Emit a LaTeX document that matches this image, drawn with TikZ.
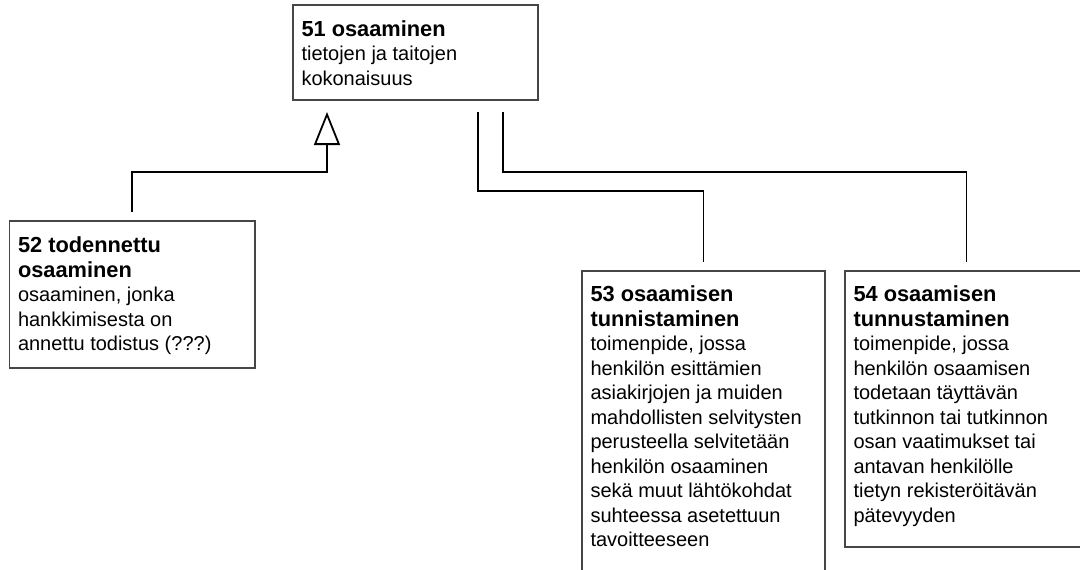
\documentclass[tikz,border=0pt]{standalone}
\usepackage{fontspec}
\setmainfont{Liberation Sans}
\usetikzlibrary{arrows.meta,calc}
\definecolor{boxgray}{RGB}{70,70,70}
\newcommand\bodyfont{\fontsize{20}{24.5}\selectfont}
\newcommand\titlefont{\fontsize{21.8}{24.5}\selectfont\bfseries}
\newcommand\boxcontent[3]{\parbox[t]{#1pt}{\raggedright{\titlefont #2\\}\bodyfont #3}}
\tikzset{
  termbox/.style={draw=boxgray, line width=1.8pt, fill=white, anchor=north west,
    inner xsep=8.5pt, inner ysep=0pt, outer sep=0pt},
  conn/.style={draw=black, line width=1.8pt},
}
\begin{document}
\begin{tikzpicture}[x=1pt,y=-1pt]
\useasboundingbox (0,0) rectangle (1080,570);
\fill[white] (0,0) rectangle (1080,570);

\node[termbox, text height=31pt, text depth=64pt] (b51) at (293,5)
  {\boxcontent{228}{51 osaaminen}{tietojen ja taitojen\\kokonaisuus}};

\node[termbox, text height=31.5pt, text depth=115.5pt] (b52) at (9.5,221)
  {\boxcontent{228.5}{52 todennettu\\osaaminen}{osaaminen, jonka\\hankkimisesta on\\annettu todistus (???)}};

\node[termbox, text height=30.5pt, text depth=300pt] (b53) at (582,271)
  {\boxcontent{226}{53 osaamisen\\tunnistaminen}{toimenpide, jossa\\henkilön esittämien\\asiakirjojen ja muiden\\mahdollisten selvitysten\\perusteella selvitetään\\henkilön osaaminen\\sekä muut lähtökohdat\\suhteessa asetettuun\\tavoitteeseen}};

\node[termbox, text height=30.5pt, text depth=245.5pt] (b54) at (845,271)
  {\boxcontent{226}{54 osaamisen\\tunnustaminen}{toimenpide, jossa\\henkilön osaamisen\\todetaan täyttävän\\tutkinnon tai tutkinnon\\osan vaatimukset tai\\antavan henkilölle\\tietyn rekisteröitävän\\pätevyyden}};

% generalisation 52 -> 51
\draw[conn, -{Triangle[open, length=33pt, width=26pt, fill=white]}, shorten <=9pt, shorten >=12pt]
  (b52.north) |- ($(b51.south west)+(34,72)$) -- ($(b51.south west)+(34,0)$);

% 51 -> 53
\draw[conn] ($(b51.south west)+(185,12)$) |- ($(b53.north)+(0,-80)$) -- ($(b53.north)+(0,-9)$);

% 51 -> 54
\draw[conn] ($(b51.south west)+(210,12)$) |- ($(b54.north)+(0,-99)$) -- ($(b54.north)+(0,-9)$);
\end{tikzpicture}
\end{document}
